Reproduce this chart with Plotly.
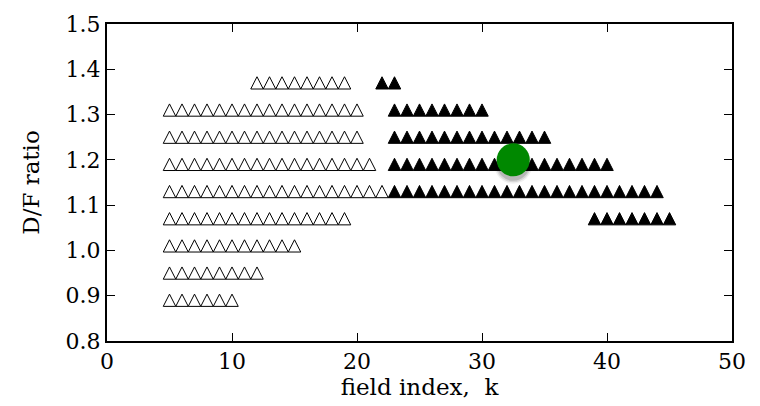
import plotly.graph_objects as go

# ---- data ----
ratios = [0.89, 0.95, 1.01, 1.07, 1.13, 1.19, 1.25, 1.31, 1.37]
open_first = [5, 5, 5, 5, 5, 5, 5, 5, 12]
open_last = [10, 12, 15, 19, 22, 21, 20, 20, 19]
filled_first = [None, None, None, 39, 23, 23, 23, 23, 22]
filled_last = [None, None, None, 45, 44, 40, 35, 30, 23]
best_k = [32.5]
best_ratio = [1.20]

# ---- layout constants ----
W, H = 760, 406
ML, MR, MT, MB = 107, 28, 18, 65
X_RANGE = [0, 50]
Y_RANGE = [0.8, 1.5]
plot_w = W - ML - MR
plot_h = H - MT - MB
px_per_x = plot_w / (X_RANGE[1] - X_RANGE[0])
px_per_y = plot_h / (Y_RANGE[1] - Y_RANGE[0])
TRI_PX = 12.5  # triangle marker width/height in pixels
hx = 0.5 * TRI_PX / px_per_x
hy = 0.5 * TRI_PX / px_per_y
SHADOW_PX = 5


def tri_path(ks, y):
    xs, ys = [], []
    for k in ks:
        xs += [k - hx, k, k + hx, k - hx, None]
        ys += [y - hy, y + hy, y - hy, y - hy, None]
    return xs, ys


ox, oy, fx, fy = [], [], [], []
for i, y in enumerate(ratios):
    a, b = tri_path(range(open_first[i], open_last[i] + 1), y)
    ox += a
    oy += b
    if filled_first[i] is not None:
        a, b = tri_path(range(filled_first[i], filled_last[i] + 1), y)
        fx += a
        fy += b

fig = go.Figure()
fig.add_trace(go.Scatter(x=ox, y=oy, mode="lines", fill="toself",
                         fillcolor="white", line=dict(color="black", width=1),
                         hoverinfo="skip", showlegend=False))
fig.add_trace(go.Scatter(x=fx, y=fy, mode="lines", fill="toself",
                         fillcolor="black", line=dict(color="black", width=1),
                         hoverinfo="skip", showlegend=False))
# soft shadow under the marker (offset a few pixels downward)
shadow_y = [v - SHADOW_PX / px_per_y for v in best_ratio]
for sz, alpha in [(38, 0.06), (35, 0.10), (32, 0.14)]:
    fig.add_trace(go.Scatter(x=best_k, y=shadow_y, mode="markers",
                             marker=dict(size=sz, color=f"rgba(0,0,0,{alpha})", line=dict(width=0)),
                             hoverinfo="skip", showlegend=False))
fig.add_trace(go.Scatter(x=best_k, y=best_ratio, mode="markers",
                         marker=dict(size=33, color="#008800", line=dict(width=0)),
                         showlegend=False))

font = dict(family="DejaVu Serif, serif", size=22, color="black")
title_font = dict(family="DejaVu Serif, serif", size=23, color="black")
axis_common = dict(showgrid=False, zeroline=False, showline=True, linecolor="black",
                   linewidth=2, mirror="ticks", ticks="inside", ticklen=8,
                   tickwidth=1, tickcolor="black", tickfont=font)
fig.update_layout(
    width=W, height=H,
    margin=dict(l=ML, r=MR, t=MT, b=MB),
    paper_bgcolor="white", plot_bgcolor="white",
    font=font,
    xaxis=dict(range=X_RANGE, tickvals=[0, 10, 20, 30, 40, 50],
               title=dict(text="field index,\u00a0\u00a0k", font=title_font, standoff=0),
               **axis_common),
    yaxis=dict(range=Y_RANGE, tickvals=[0.8, 0.9, 1.0, 1.1, 1.2, 1.3, 1.4, 1.5],
               tickformat=".1f",
               title=dict(text="D/F ratio", font=title_font, standoff=20),
               **axis_common),
)
fig.write_html("out.html")
